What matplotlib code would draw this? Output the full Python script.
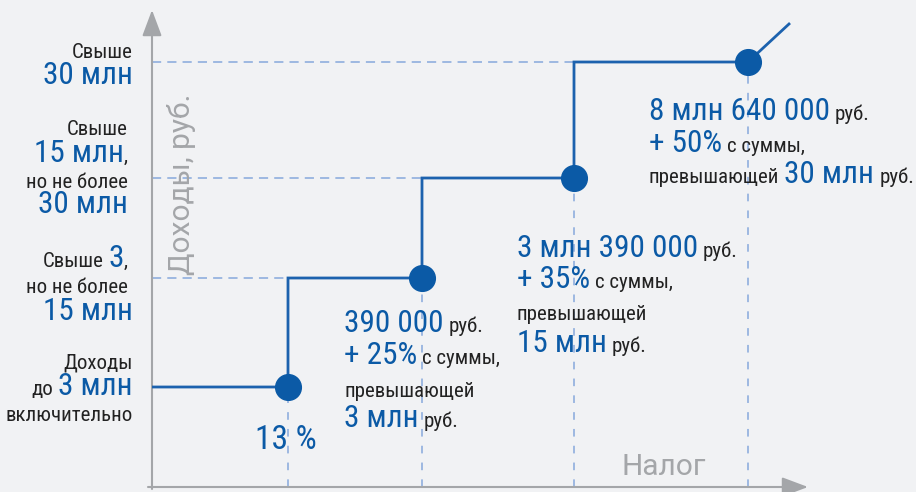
import numpy as np
import matplotlib.pyplot as plt

# schematic chart: tax bracket nodes (units = 100 px from the axis origin)
tax_x = [1.36, 2.70, 4.22, 5.96]
income_y = [1.00, 2.09, 3.09, 4.25]
tail_x, tail_y = 6.37, 4.63

income_labels = [
    [[("Доходы", 0)], [("до", 0), ("3 млн", 1)], [("включительно", 0)]],
    [[("Свыше", 0), ("3", 1), (",", 0)], [("но не более", 0)], [("15 млн", 1)]],
    [[("Свыше", 0)], [("15 млн", 1), (",", 0)], [("но не более", 0)], [("30 млн", 1)]],
    [[("Свыше", 0)], [("30 млн", 1)]],
]
tax_labels = [
    [[("13 %", 2)]],
    [[("390 000", 1), ("руб.", 0)], [("+ 25%", 1), ("с суммы,", 0)],
     [("превышающей", 0)], [("3 млн", 1), ("руб.", 0)]],
    [[("3 млн 390 000", 1), ("руб.", 0)], [("+ 35%", 1), ("с суммы,", 0)],
     [("превышающей", 0)], [("15 млн", 1), ("руб.", 0)]],
    [[("8 млн 640 000", 1), ("руб.", 0)], [("+ 50%", 1), ("с суммы,", 0)],
     [("превышающей", 0), ("30 млн", 1), ("руб.", 0)]],
]

W, H = 916, 492
BG = '#f1f2f4'
BLUE = '#0b5aa6'
LINE = '#1c62ae'
DASH = '#86a8dc'
DARK = '#222222'
GREY = '#a4a6a9'
SIZES = {0: 15, 1: 22.5, 2: 24}

plt.rcParams['font.family'] = ['Roboto Condensed', 'PT Sans Narrow',
                               'IBM Plex Sans Condensed', 'DejaVu Sans']

fig = plt.figure(figsize=(W / 100, H / 100), dpi=100, facecolor=BG)
ax = fig.add_axes([152 / W, 5 / H, 756 / W, 477 / H])
ax.set_xlim(0, 7.56)
ax.set_ylim(0, 4.77)
ax.axis('off')

# axes with arrows
arr = dict(arrowstyle='-|>,head_length=0.8,head_width=0.3', color=GREY, lw=1.5,
           mutation_scale=20, shrinkA=0, shrinkB=0)
ax.annotate('', xy=(6.56, 0), xytext=(-0.04, 0), arrowprops=arr, annotation_clip=False)
ax.annotate('', xy=(0, 4.77), xytext=(0, -0.02), arrowprops=arr, annotation_clip=False)

# guide lines
ax.hlines(income_y, 0, tax_x, colors=DASH, lw=1.1, linestyles=(0, (6, 4)), zorder=1)
ax.vlines(tax_x, 0, income_y, colors=DASH, lw=1.1, linestyles=(0, (5, 6)), zorder=1)

# step line
px, py = [0], [income_y[0]]
for i in range(len(tax_x)):
    px.append(tax_x[i]); py.append(income_y[i])
    if i < len(tax_x) - 1:
        px.append(tax_x[i]); py.append(income_y[i + 1])
px.append(tail_x); py.append(tail_y)
ax.plot(px, py, color=LINE, lw=2, solid_joinstyle='miter', zorder=3)
ax.plot(tax_x, income_y, 'o', color=BLUE, ms=18.5, zorder=4)

renderer = fig.canvas.get_renderer()


def rich(x, y, pieces, ha='left', gap=5):
    arts = []
    for s, kind in pieces:
        arts.append(fig.text(0, 0, s, fontsize=SIZES[kind],
                             color=BLUE if kind else DARK, va='baseline'))
    widths = [a.get_window_extent(renderer).width for a in arts]
    gaps = [0 if s.startswith(',') else gap for s, _ in pieces[1:]]
    total = sum(widths) + sum(gaps)
    cx = x - total if ha == 'right' else x
    for k, a in enumerate(arts):
        a.set_position((cx / W, 1 - y / H))
        cx += widths[k] + (gaps[k] if k < len(gaps) else 0)


left_base = [[369, 395, 421], [267, 293, 320], [135, 162, 188, 213], [58, 84]]
left_right = [[133, 133, 133], [128, 128, 133], [128, 128, 128, 128], [133, 133]]
for lab, bases, rights in zip(income_labels, left_base, left_right):
    for pieces, b, r in zip(lab, bases, rights):
        rich(r, b, pieces, ha='right')

tax_pos = [(255, [449]), (344, [332, 364, 397, 427]), (517, [257, 288, 320, 352]),
           (649, [120, 152, 183])]
for lab, (x0, bases) in zip(tax_labels, tax_pos):
    for pieces, b in zip(lab, bases):
        rich(x0, b, pieces)

fig.text(181 / W, 1 - 184 / H, 'Доходы, руб.', rotation=90, color=GREY,
         fontsize=21.5, ha='center', va='center', family=['Roboto', 'DejaVu Sans'])
fig.text(622 / W, 1 - 475 / H, 'Налог', color=GREY, fontsize=21.5,
         ha='left', va='baseline', family=['Roboto', 'DejaVu Sans'])

fig.savefig('out.png', dpi=100, facecolor=BG)
